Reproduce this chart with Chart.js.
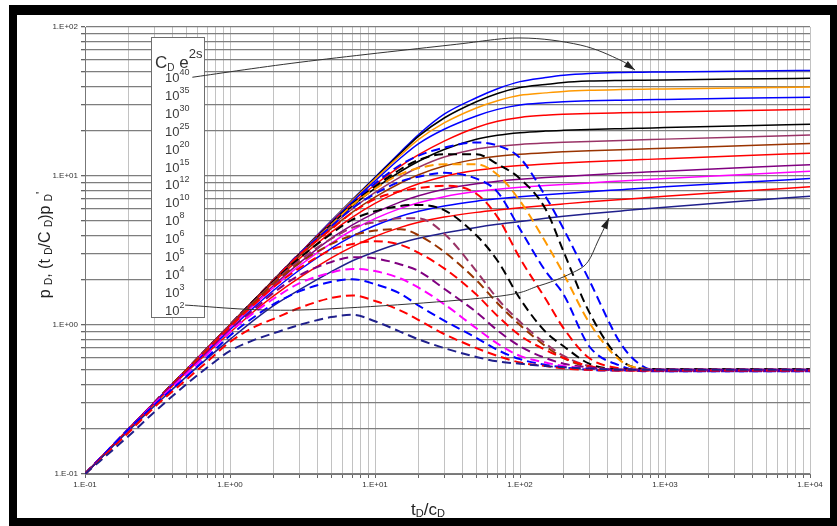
<!DOCTYPE html>
<html>
<head>
<meta charset="utf-8">
<title>Wellbore storage and skin type curves</title>
<script src="https://cdn.jsdelivr.net/npm/chart.js@4.4.1/dist/chart.umd.min.js"></script>
<style>
  html, body { margin: 0; padding: 0; background: #fff; }
  #wrap { position: relative; width: 837px; height: 526px; }
</style>
</head>
<body>
<div id="wrap"><canvas id="chart" width="837" height="526"></canvas></div>
<script>
// ─── Data ────────────────────────────────────────────────────────────────
const tdcd = [0.1, 0.2, 0.3, 0.5, 0.7, 1, 1.5, 2, 3, 5, 7, 10, 15, 20, 30, 50, 70, 100, 150, 200, 300, 500, 700, 1000, 3000, 10000];

const cde2sExponents = [2, 3, 4, 5, 6, 8, 10, 12, 15, 20, 25, 30, 35, 40];

// pD (solid)
const pd_e2  = [0.1, 0.195, 0.285, 0.45, 0.6, 0.8, 1.1, 1.35, 1.72, 2.28, 2.7, 3.1, 3.55, 3.82, 4.15, 4.52, 4.74, 4.95, 5.2, 5.36, 5.57, 5.83, 6.0, 6.16, 6.71, 7.31];
const pd_e3  = [0.1, 0.2, 0.295, 0.48, 0.65, 0.89, 1.26, 1.57, 2.07, 2.82, 3.36, 3.93, 4.52, 4.89, 5.3, 5.7, 5.92, 6.13, 6.35, 6.5, 6.71, 6.96, 7.13, 7.31, 7.86, 8.46];
const pd_e4  = [0.1, 0.2, 0.3, 0.49, 0.67, 0.93, 1.34, 1.71, 2.33, 3.27, 3.95, 4.65, 5.37, 5.8, 6.3, 6.78, 7.03, 7.26, 7.49, 7.64, 7.85, 8.1, 8.27, 8.46, 9.01, 9.61];
const pd_e5  = [0.1, 0.2, 0.3, 0.5, 0.69, 0.96, 1.39, 1.79, 2.49, 3.55, 4.34, 5.17, 6.06, 6.61, 7.26, 7.86, 8.14, 8.39, 8.63, 8.78, 8.99, 9.25, 9.43, 9.61, 10.16, 10.77];
const pd_e6  = [0.1, 0.2, 0.3, 0.5, 0.69, 0.97, 1.42, 1.84, 2.6, 3.82, 4.7, 5.66, 6.7, 7.37, 8.15, 8.86, 9.22, 9.51, 9.78, 9.94, 10.16, 10.42, 10.59, 10.77, 11.32, 11.92];
const pd_e8  = [0.1, 0.2, 0.3, 0.5, 0.7, 0.99, 1.47, 1.93, 2.78, 4.2, 5.3, 6.55, 7.95, 8.86, 9.93, 10.92, 11.38, 11.74, 12.05, 12.23, 12.46, 12.72, 12.89, 13.07, 13.62, 14.22];
const pd_e10 = [0.1, 0.2, 0.3, 0.5, 0.7, 1.0, 1.49, 1.97, 2.88, 4.45, 5.72, 7.21, 8.98, 10.2, 11.66, 12.98, 13.56, 13.99, 14.34, 14.53, 14.76, 15.02, 15.19, 15.37, 15.92, 16.52];
const pd_e12 = [0.1, 0.2, 0.3, 0.5, 0.7, 1.0, 1.5, 1.99, 2.93, 4.6, 6.03, 7.76, 9.88, 11.44, 13.4, 15.18, 15.82, 16.28, 16.64, 16.84, 17.07, 17.33, 17.5, 17.68, 18.23, 18.83];
const pd_e15 = [0.1, 0.2, 0.3, 0.5, 0.7, 1.0, 1.5, 2.0, 2.97, 4.74, 6.3, 8.26, 10.72, 12.56, 15.06, 17.62, 18.77, 19.53, 20.02, 20.25, 20.51, 20.78, 20.95, 21.13, 21.68, 22.28];
const pd_e20 = [0.1, 0.2, 0.3, 0.5, 0.7, 1.0, 1.5, 2.0, 3.0, 4.87, 6.53, 8.74, 11.67, 13.9, 17.15, 21.17, 23.28, 24.73, 25.6, 25.95, 26.26, 26.54, 26.71, 26.89, 27.44, 28.04];
const pd_e25 = [0.1, 0.2, 0.3, 0.5, 0.7, 1.0, 1.5, 2.0, 3.0, 4.94, 6.75, 9.25, 13.2, 16.5, 20.6, 25.3, 28.0, 30.0, 30.97, 31.52, 31.98, 32.3, 32.46, 32.64, 33.19, 33.79];
const pd_e30 = [0.1, 0.2, 0.3, 0.5, 0.7, 1.0, 1.5, 2.0, 3.0, 4.97, 6.86, 9.55, 13.8, 17.6, 22.7, 28.6, 32.0, 34.8, 36.13, 36.97, 37.63, 38.04, 38.22, 38.4, 38.95, 39.55];
const pd_e35 = [0.1, 0.2, 0.3, 0.5, 0.7, 1.0, 1.5, 2.0, 3.0, 4.99, 6.92, 9.7, 14.2, 18.5, 24.5, 31.5, 35.8, 39.2, 41.13, 42.45, 43.33, 43.79, 43.97, 44.15, 44.7, 45.3];
const pd_e40 = [0.1, 0.2, 0.3, 0.5, 0.7, 1.0, 1.5, 2.0, 3.0, 5.0, 6.95, 9.8, 14.5, 19.0, 26.0, 33.5, 38.5, 43.0, 45.8, 47.5, 48.8, 49.5, 49.7, 49.91, 50.46, 51.06];

// (tD/CD) pD' (dashed)
const dpd_e2  = [0.1, 0.18, 0.26, 0.4, 0.52, 0.67, 0.8, 0.88, 1.0, 1.13, 1.17, 1.06, 0.9, 0.8, 0.7, 0.61, 0.57, 0.55, 0.53, 0.52, 0.51, 0.5, 0.5, 0.5, 0.5, 0.5];
const dpd_e3  = [0.1, 0.19, 0.28, 0.43, 0.57, 0.77, 0.98, 1.1, 1.3, 1.52, 1.58, 1.45, 1.25, 1.08, 0.87, 0.7, 0.62, 0.56, 0.53, 0.51, 0.5, 0.495, 0.495, 0.495, 0.495, 0.495];
const dpd_e4  = [0.1, 0.2, 0.29, 0.45, 0.61, 0.85, 1.15, 1.38, 1.68, 1.95, 2.03, 1.88, 1.62, 1.35, 1.07, 0.82, 0.68, 0.59, 0.54, 0.52, 0.5, 0.495, 0.495, 0.495, 0.495, 0.495];
const dpd_e5  = [0.1, 0.2, 0.295, 0.47, 0.64, 0.9, 1.23, 1.5, 1.9, 2.25, 2.38, 2.3, 2.05, 1.78, 1.38, 0.95, 0.75, 0.62, 0.56, 0.53, 0.51, 0.5, 0.5, 0.5, 0.5, 0.5];
const dpd_e6  = [0.1, 0.2, 0.3, 0.48, 0.66, 0.93, 1.3, 1.65, 2.15, 2.65, 2.85, 2.8, 2.55, 2.3, 1.75, 1.22, 0.92, 0.72, 0.6, 0.55, 0.52, 0.5, 0.5, 0.5, 0.5, 0.5];
const dpd_e8  = [0.1, 0.2, 0.3, 0.49, 0.68, 0.97, 1.4, 1.8, 2.4, 3.2, 3.5, 3.65, 3.45, 3.05, 2.4, 1.6, 1.15, 0.85, 0.68, 0.6, 0.53, 0.495, 0.495, 0.495, 0.495, 0.495];
const dpd_e10 = [0.1, 0.2, 0.3, 0.5, 0.69, 0.98, 1.45, 1.9, 2.6, 3.5, 4.0, 4.3, 4.4, 4.0, 3.1, 2.0, 1.4, 1.0, 0.72, 0.6, 0.52, 0.5, 0.5, 0.5, 0.5, 0.5];
const dpd_e12 = [0.1, 0.2, 0.3, 0.5, 0.7, 1.0, 1.47, 1.93, 2.7, 3.8, 4.5, 4.9, 5.2, 5.2, 4.1, 2.3, 1.5, 1.05, 0.75, 0.62, 0.53, 0.5, 0.5, 0.5, 0.5, 0.5];
const dpd_e15 = [0.1, 0.2, 0.3, 0.5, 0.7, 1.0, 1.5, 1.97, 2.8, 4.1, 5.1, 5.8, 6.3, 6.4, 5.9, 4.0, 2.7, 1.5, 0.9, 0.72, 0.55, 0.505, 0.505, 0.505, 0.505, 0.505];
const dpd_e20 = [0.1, 0.2, 0.3, 0.5, 0.7, 1.0, 1.5, 2.0, 2.95, 4.4, 5.7, 7.0, 7.9, 8.3, 8.6, 7.6, 5.3, 2.8, 1.5, 0.95, 0.6, 0.51, 0.495, 0.495, 0.495, 0.495];
const dpd_e25 = [0.1, 0.2, 0.3, 0.5, 0.7, 1.0, 1.5, 2.0, 3.0, 4.6, 6.1, 7.6, 9.2, 9.9, 10.5, 9.6, 7.8, 4.4, 2.3, 1.6, 0.72, 0.53, 0.49, 0.49, 0.49, 0.49];
const dpd_e30 = [0.1, 0.2, 0.3, 0.5, 0.7, 1.0, 1.5, 2.0, 3.0, 4.7, 6.4, 8.2, 10.3, 11.3, 12.0, 12.0, 10.2, 6.8, 3.6, 2.2, 1.04, 0.57, 0.51, 0.5, 0.5, 0.5];
const dpd_e35 = [0.1, 0.2, 0.3, 0.5, 0.7, 1.0, 1.5, 2.0, 3.0, 4.8, 6.5, 8.5, 11.1, 12.8, 14.0, 14.0, 12.0, 9.6, 6.0, 3.1, 1.22, 0.58, 0.51, 0.505, 0.505, 0.505];
const dpd_e40 = [0.1, 0.2, 0.3, 0.5, 0.7, 1.0, 1.5, 2.0, 3.0, 4.8, 6.6, 8.9, 11.9, 13.7, 15.5, 16.8, 16.0, 13.2, 7.3, 4.4, 2.0, 0.74, 0.53, 0.49, 0.49, 0.49];

const pressureSeries = [pd_e2, pd_e3, pd_e4, pd_e5, pd_e6, pd_e8, pd_e10, pd_e12, pd_e15, pd_e20, pd_e25, pd_e30, pd_e35, pd_e40];
const derivativeSeries = [dpd_e2, dpd_e3, dpd_e4, dpd_e5, dpd_e6, dpd_e8, dpd_e10, dpd_e12, dpd_e15, dpd_e20, dpd_e25, dpd_e30, dpd_e35, dpd_e40];

// axis ticks
const xDecades = [0.1, 1, 10, 100, 1000, 10000];
const yDecades = [0.1, 1, 10, 100];
const minorSteps = [1, 2, 3, 4, 5, 6, 7, 8, 9];

// annotation arrows (data units), legend label -> curve
const arrowTopX = [0.55, 3.04, 33, 100, 260, 490, 621];
const arrowTopY = [46, 58, 75.7, 84.4, 75.7, 60, 51.4];
const arrowLowX = [0.49, 3.0, 60, 137, 236, 294, 345, 411];
const arrowLowY = [1.36, 1.26, 1.53, 1.84, 2.27, 2.66, 3.66, 5.22];

// ─── Styling ─────────────────────────────────────────────────────────────
const FONT = "'Liberation Sans', Arial, sans-serif";
const curveColors = ['#20208c', '#ff0000', '#0000ff', '#ff00ff', '#800080', '#ff0000', '#993300',
                     '#993366', '#000000', '#ff0000', '#0000ff', '#ff9900', '#000000', '#0000ff'];

function logTicks(decades) {
  const out = [];
  decades.forEach((d, i) => {
    if (i === decades.length - 1) { out.push(d); return; }
    minorSteps.forEach(m => out.push(+(d * m).toPrecision(3)));
  });
  return out;
}

function isDecade(v) {
  const l = Math.log10(v);
  return Math.abs(l - Math.round(l)) < 1e-6;
}

function sciLabel(v) {
  if (!isDecade(v)) return '';
  const e = Math.round(Math.log10(v));
  return '1.E' + (e < 0 ? '-' : '+') + String(Math.abs(e)).padStart(2, '0');
}

function richText(ctx, parts, x, y, align) {
  let w = 0;
  parts.forEach(p => { ctx.font = p.size + 'px ' + FONT; w += ctx.measureText(p.text).width; });
  let cx = align === 'center' ? x - w / 2 : x;
  parts.forEach(p => {
    ctx.font = p.size + 'px ' + FONT;
    ctx.fillText(p.text, cx, y + (p.dy || 0));
    cx += ctx.measureText(p.text).width;
  });
}

function drawArrow(chart, xs, ys) {
  const { ctx, scales: { x, y } } = chart;
  const pts = xs.map((v, i) => [x.getPixelForValue(v), y.getPixelForValue(ys[i])]);
  ctx.save();
  ctx.strokeStyle = '#333';
  ctx.lineWidth = 1;
  ctx.beginPath();
  ctx.moveTo(pts[0][0], pts[0][1]);
  for (let i = 0; i < pts.length - 1; i++) {
    const p0 = pts[Math.max(0, i - 1)], p1 = pts[i], p2 = pts[i + 1], p3 = pts[Math.min(pts.length - 1, i + 2)];
    ctx.bezierCurveTo(
      p1[0] + (p2[0] - p0[0]) / 6, p1[1] + (p2[1] - p0[1]) / 6,
      p2[0] - (p3[0] - p1[0]) / 6, p2[1] - (p3[1] - p1[1]) / 6,
      p2[0], p2[1]);
  }
  ctx.stroke();
  // head
  const tip = pts[pts.length - 1], prev = pts[pts.length - 2];
  const a = Math.atan2(tip[1] - prev[1], tip[0] - prev[0]);
  ctx.fillStyle = '#222';
  ctx.beginPath();
  ctx.moveTo(tip[0], tip[1]);
  ctx.lineTo(tip[0] - 11 * Math.cos(a) + 3.5 * Math.sin(a), tip[1] - 11 * Math.sin(a) - 3.5 * Math.cos(a));
  ctx.lineTo(tip[0] - 11 * Math.cos(a) - 3.5 * Math.sin(a), tip[1] - 11 * Math.sin(a) + 3.5 * Math.cos(a));
  ctx.closePath();
  ctx.fill();
  ctx.restore();
}

// ─── Decorations: frame, legend box, arrows, axis titles ─────────────────
const decorations = {
  id: 'decorations',
  beforeDraw(chart) {
    const ctx = chart.ctx;
    ctx.save();
    ctx.fillStyle = '#fff';
    ctx.fillRect(0, 0, chart.width, chart.height);
    ctx.restore();
  },
  afterDraw(chart) {
    const ctx = chart.ctx;
    ctx.save();

    // legend box
    ctx.fillStyle = '#fff';
    ctx.fillRect(151, 37, 53, 280);
    ctx.strokeStyle = '#6e6e6e';
    ctx.lineWidth = 1;
    ctx.strokeRect(151.5, 37.5, 53, 280);

    ctx.fillStyle = '#333';
    ctx.textBaseline = 'alphabetic';
    richText(ctx, [
      { text: 'C', size: 17 }, { text: 'D', size: 10, dy: 3 },
      { text: ' e', size: 17 }, { text: '2s', size: 13, dy: -10 }
    ], 155, 68, 'left');

    ctx.fillStyle = '#3c3c3c';
    const labels = cde2sExponents.slice().reverse();
    labels.forEach((e, k) => {
      richText(ctx, [{ text: '10', size: 13 }, { text: String(e), size: 9, dy: -7 }], 165, 82 + k * 17.9, 'left');
    });

    // arrows
    drawArrow(chart, arrowTopX, arrowTopY);
    drawArrow(chart, arrowLowX, arrowLowY);

    // axis titles
    ctx.fillStyle = '#222';
    richText(ctx, [
      { text: 't', size: 17 }, { text: 'D', size: 11, dy: 2 },
      { text: '/c', size: 17 }, { text: 'D', size: 11, dy: 2 }
    ], 428, 515, 'center');

    ctx.save();
    ctx.translate(50, 245);
    ctx.rotate(-Math.PI / 2);
    richText(ctx, [
      { text: 'p ', size: 16 }, { text: 'D', size: 10, dy: 2 },
      { text: ', (t ', size: 16 }, { text: 'D', size: 10, dy: 2 },
      { text: '/C ', size: 16 }, { text: 'D', size: 10, dy: 2 },
      { text: ')p ', size: 16 }, { text: 'D', size: 10, dy: 2 },
      { text: "'", size: 12, dy: -5 }
    ], 0, 0, 'center');
    ctx.restore();

    // black frame
    ctx.fillStyle = '#000';
    ctx.fillRect(9, 5, 828, 10);
    ctx.fillRect(9, 5, 8, 521);
    ctx.fillRect(830, 5, 7, 521);
    ctx.fillRect(9, 518, 828, 8);
    ctx.restore();
  }
};

// ─── Datasets ────────────────────────────────────────────────────────────
const datasets = [];
derivativeSeries.forEach((arr, i) => {
  datasets.push({
    label: "(tD/CD)pD' 1e" + cde2sExponents[i],
    data: tdcd.map((t, j) => ({ x: t, y: arr[j] })),
    borderColor: curveColors[i],
    borderWidth: 2,
    borderDash: [9, 5],
    pointRadius: 0,
    cubicInterpolationMode: 'monotone',
    fill: false,
  });
});
pressureSeries.forEach((arr, i) => {
  datasets.push({
    label: 'pD 1e' + cde2sExponents[i],
    data: tdcd.map((t, j) => ({ x: t, y: arr[j] })),
    borderColor: curveColors[i],
    borderWidth: 1.5,
    pointRadius: 0,
    cubicInterpolationMode: 'monotone',
    fill: false,
  });
});

const tickFont = { family: FONT, size: 8 };

new Chart(document.getElementById('chart'), {
  type: 'line',
  data: { datasets },
  options: {
    responsive: false,
    animation: false,
    devicePixelRatio: 1,
    layout: { padding: { left: 0, right: 27, top: 27, bottom: 32 } },
    plugins: { legend: { display: false }, tooltip: { enabled: false } },
    scales: {
      x: {
        type: 'logarithmic',
        min: 0.1,
        max: 10000,
        afterBuildTicks: s => { s.ticks = logTicks(xDecades).map(v => ({ value: v })); },
        afterFit: s => { s.height = 20; },
        ticks: { callback: v => sciLabel(v), autoSkip: false, maxRotation: 0, color: '#333', font: tickFont, padding: 2 },
        grid: { color: '#c2c2c2', lineWidth: 1, tickLength: 4, tickColor: '#666' },
        border: { color: '#777' },
      },
      y: {
        type: 'logarithmic',
        min: 0.1,
        max: 100,
        afterBuildTicks: s => { s.ticks = logTicks(yDecades).map(v => ({ value: v })); },
        afterFit: s => { s.width = 85; },
        ticks: { callback: v => sciLabel(v), autoSkip: false, color: '#333', font: tickFont, padding: 3 },
        grid: { color: '#7e7e7e', lineWidth: 1.3, tickLength: 4, tickColor: '#666' },
        border: { color: '#777' },
      },
    },
  },
  plugins: [decorations],
});
</script>
</body>
</html>
